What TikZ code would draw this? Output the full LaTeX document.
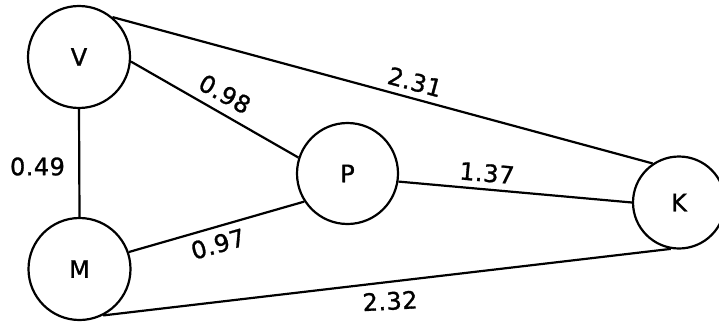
\documentclass[tikz,border=0pt]{standalone}
\usepackage{fontspec}
\setmainfont{DejaVu Sans}[LetterSpace=2,FakeBold=1.2]
\begin{document}
\begin{tikzpicture}[x=1pt,y=-1pt,
  vert/.style={circle,draw,line width=2.2pt,inner sep=0pt,font=\fontsize{24}{26}\selectfont},
  edge/.style={line width=2.2pt},
  lbl/.style={inner sep=0pt,font=\fontsize{24}{26}\selectfont}]
\useasboundingbox (0,0) rectangle (719,321);
\node[vert,minimum size=102pt] (V) at (79,57) {V};
\node[vert,minimum size=102pt] (M) at (79.5,269) {M};
\node[vert,minimum size=101pt] (P) at (347.5,173.5) {P};
\node[vert,minimum size=92pt] (K) at (679,202.5) {K};
\draw[edge] (V.50) -- (K.124);
\draw[edge] (V.-5) -- (P.162);
\draw[edge] (V.south) -- (M.north);
\draw[edge] (M.19) -- (P.213);
\draw[edge] (P.-9) -- (K.180);
\draw[edge] (M.-63) -- (K.-100);
\node[lbl,rotate=-15] (l231) at (415,82) {2.31};
\node[lbl,rotate=-29] (l098) at (225,94) {0.98};
\node[lbl] (l049) at (37.5,166.5) {0.49};
\node[lbl,rotate=-5] (l137) at (487,173) {1.37};
\node[lbl,rotate=16] (l097) at (218,244) {0.97};
\node[lbl,rotate=3] (l232) at (390,301) {2.32};
\end{tikzpicture}
\end{document}
